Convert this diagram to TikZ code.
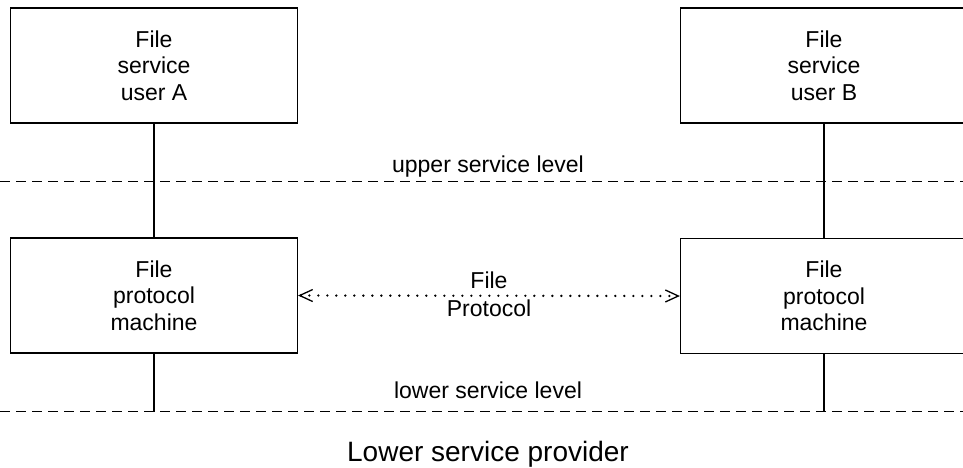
\documentclass[tikz,border=0pt]{standalone}
\usepackage{fontspec}
\setmainfont{Liberation Sans}
\usetikzlibrary{arrows.meta}

\tikzset{every picture/.style={line width=1.3pt}}
\tikzset{
  layerbox/.style={draw, minimum width=287pt, minimum height=115pt, inner sep=0pt,
    align=center, font=\fontsize{23}{26.5}\selectfont},
  levelline/.style={dash pattern=on 10pt off 6pt, line width=1.2pt},
  leveltext/.style={font=\fontsize{23}{26}\selectfont, anchor=base},
  protoline/.style={line width=2.6pt, line cap=round, dash pattern=on 0pt off 9pt,
    {Straight Barb[length=13pt,width=12pt,line width=1.3pt]}-{Straight Barb[length=13pt,width=12pt,line width=1.3pt]}}
}

\begin{document}
\begin{tikzpicture}[x=1pt,y=1pt,yscale=-1,xscale=1]
\useasboundingbox (0,0) rectangle (963,467);
\clip (0,0) rectangle (963,467);

%Shape: Rectangle [user A]
\node [layerbox] (userA) at (154,65.5) {File\\service\\user A};
%Shape: Rectangle [user B]
\node [layerbox] (userB) at (824,65.5) {File\\service\\user B};
%Shape: Rectangle [machine A]
\node [layerbox] (machA) at (154,295.5) {File\\protocol\\machine};
%Shape: Rectangle [machine B]
\node [layerbox] (machB) at (824,296) {File\\protocol\\machine};

%Level coordinates
\coordinate (upperL) at (0,181.5);
\coordinate (upperR) at (963,181.5);
\coordinate (lowerL) at (0,411.5);
\coordinate (lowerR) at (963,411.5);

%Straight Lines [service levels]
\draw [levelline] (upperL) -- (upperR) ;
\draw [levelline] (lowerL) -- (lowerR) ;

%Straight Lines [user to machine]
\draw (userA.south) -- (machA.north) ;
\draw (userB.south) -- (machB.north) ;
%Straight Lines [machine to lower level]
\draw (machA.south) -- (machA.south |- lowerL) ;
\draw (machB.south) -- (machB.south |- lowerL) ;

%Dotted Lines [peer protocol]
\draw [protoline] (machA.east) -- (machB.west) ;

% Text Node
\node [align=center, font=\fontsize{23}{28}\selectfont] (proto) at (489,294) {File\\Protocol};
% Text Node
\node [leveltext] (upperlbl) at (488,172) {upper service level};
% Text Node
\node [leveltext] (lowerlbl) at (488,398) {lower service level};
% Text Node
\node [leveltext, font=\fontsize{28}{32}\selectfont] (provider) at (488,461) {Lower service provider};

\end{tikzpicture}
\end{document}
